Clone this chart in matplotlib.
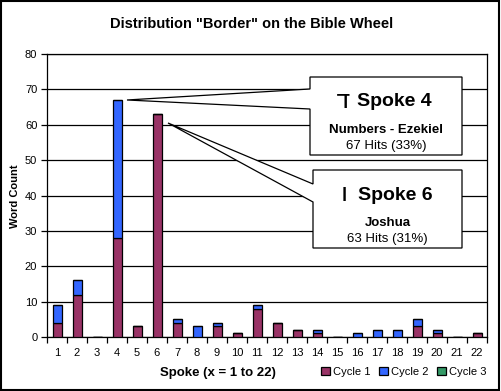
import matplotlib
matplotlib.use("Agg")
import matplotlib.pyplot as plt
import numpy as np
from matplotlib.patches import Polygon, Rectangle

plt.rcParams['font.family'] = ['Liberation Sans', 'DejaVu Sans']

spokes = [str(i) for i in range(1, 23)]
cycle1 = [4, 12, 0, 28, 3, 63, 4, 0, 3, 1, 8, 4, 2, 1, 0, 0, 0, 0, 3, 1, 0, 1]
cycle2 = [5, 4, 0, 39, 0, 0, 1, 3, 1, 0, 1, 0, 0, 1, 0, 1, 2, 2, 2, 1, 0, 0]
cycle3 = [0] * 22
series_names = ["Cycle 1", "Cycle 2", "Cycle 3"]
colors = ["#993366", "#3366FF", "#339966"]
yticks = [0, 10, 20, 30, 40, 50, 60, 70, 80]

title = 'Distribution "Border" on the Bible Wheel'
xlabel = "Spoke (x = 1 to 22)"
ylabel = "Word Count"

callouts = [
    # letter, heading, book, hits, tip (data x, data y)
    ("\u05d3", "Spoke 4", "Numbers - Ezekiel", "67 Hits (33%)", (4.5, 67)),
    ("\u05d5", "Spoke 6", "Joshua", "63 Hits (31%)", (6.55, 60.5)),
]

W, H = 501, 391
fig = plt.figure(figsize=(W / 100, H / 100), dpi=100)
fig.patch.set_facecolor("white")

def fx(x):
    return x / W

def fy(y):
    return 1 - y / H

ax = fig.add_axes([fx(47), fy(337), (487 - 47) / W, (337 - 54) / H])
x = np.arange(1, 23)
c1 = np.array(cycle1)
c2 = np.array(cycle2)
c3 = np.array(cycle3)
bw = 0.45
lw = 0.9
b1 = ax.bar(x, c1, width=bw, color=colors[0], edgecolor="black", linewidth=lw, zorder=3)
b2 = ax.bar(x, c2, bottom=c1, width=bw, color=colors[1], edgecolor="black", linewidth=lw, zorder=3)
b3 = ax.bar(x, c3, bottom=c1 + c2, width=bw, color=colors[2], edgecolor="black", linewidth=lw, zorder=3)

ax.set_xlim(0.5, 22.5)
ax.set_ylim(0, 80)
ax.set_yticks(yticks)
ax.set_yticklabels([str(v) for v in yticks], fontsize=8)
ax.set_xticks(x)
ax.set_xticklabels(spokes, fontsize=8)
ax.set_xticks(np.arange(0.5, 23, 1), minor=True)
ax.tick_params(axis="x", which="major", length=0, pad=8)
ax.tick_params(axis="x", which="minor", length=4, width=0.9, direction="out")
ax.tick_params(axis="y", length=4, width=0.9, direction="out", pad=3)
for s in ax.spines.values():
    s.set_color("black")
    s.set_linewidth(0.9)
ax.grid(axis="y", color="black", linewidth=0.9, zorder=1)
ax.set_axisbelow(True)

fig.text(fx(252), fy(24), title, ha="center", va="center", fontsize=10.5, fontweight="bold")
fig.text(fx(218), fy(373), xlabel, ha="center", va="center", fontsize=9.5, fontweight="bold")
fig.text(fx(15), fy(196), ylabel, ha="center", va="center", rotation=90, fontsize=8, fontweight="bold")

fig.legend([b1, b2, b3], series_names, loc="center", bbox_to_anchor=(fx(404), fy(372)),
           ncol=3, frameon=False, fontsize=8, handlelength=0.75, handleheight=0.75,
           handletextpad=0.3, columnspacing=0.8, borderpad=0.1)

# callout boxes (pixel geometry, top-left origin)
boxes = [
    dict(l=310, r=462, t=77, b=155, j1=89, j2=109),
    dict(l=313, r=462, t=170, b=248, j1=184, j2=202),
]
fig.canvas.draw()
for (letter, head, book, hits, tip), bx in zip(callouts, boxes):
    X, Y = ax.transData.transform(tip)
    tx, ty = X / W, Y / H
    pts = [
        (fx(bx["l"]), fy(bx["j1"])),
        (fx(bx["l"]), fy(bx["t"])),
        (fx(bx["r"]), fy(bx["t"])),
        (fx(bx["r"]), fy(bx["b"])),
        (fx(bx["l"]), fy(bx["b"])),
        (fx(bx["l"]), fy(bx["j2"])),
        (tx, ty),
    ]
    poly = Polygon(pts, closed=True, facecolor="white", edgecolor="black",
                   linewidth=0.9, transform=fig.transFigure, zorder=5)
    fig.patches.append(poly)
    cx = (bx["l"] + bx["r"]) / 2
    fig.text(fx(cx - 43), fy(bx["t"] + 31), letter, ha="center", va="baseline",
             fontsize=19, family=["DejaVu Sans"], zorder=6)
    fig.text(fx(cx - 29), fy(bx["t"] + 25), head, ha="left", va="center",
             fontsize=14, fontweight="bold", zorder=6)
    fig.text(fx(cx), fy(bx["t"] + 53), book, ha="center", va="center",
             fontsize=9.5, fontweight="bold", zorder=6)
    fig.text(fx(cx), fy(bx["t"] + 69), hits, ha="center", va="center",
             fontsize=9.5, zorder=6)

fig.patches.append(Rectangle((0.5 / W, 1.5 / H), (W - 2.5) / W, (H - 2.5) / H,
                             transform=fig.transFigure, fill=False,
                             edgecolor="black", linewidth=1.5, zorder=10))

fig.savefig("out.png", dpi=100)
